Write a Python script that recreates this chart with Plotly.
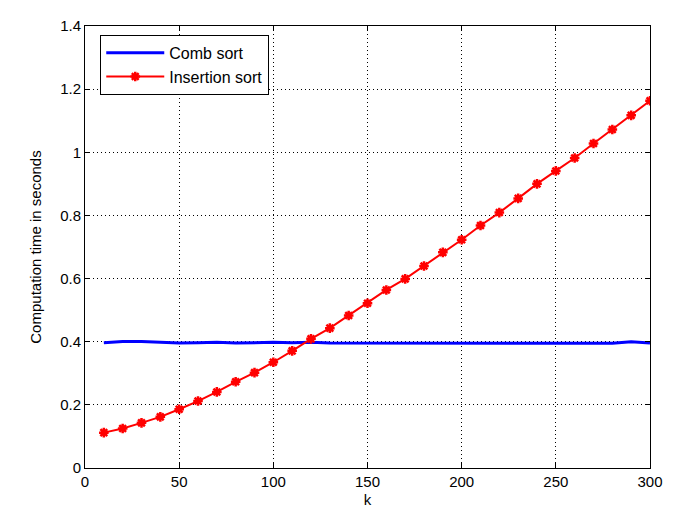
import plotly.graph_objects as go

k = [10, 20, 30, 40, 50, 60, 70, 80, 90, 100, 110, 120, 130, 140, 150,
     160, 170, 180, 190, 200, 210, 220, 230, 240, 250, 260, 270, 280, 290, 300]
comb = [0.397, 0.401, 0.401, 0.399, 0.396, 0.397, 0.398, 0.396, 0.398, 0.398,
        0.397, 0.398, 0.396, 0.396, 0.395, 0.396, 0.396, 0.396, 0.394, 0.396,
        0.396, 0.395, 0.396, 0.395, 0.394, 0.396, 0.395, 0.395, 0.400, 0.396]
insertion = [0.112, 0.125, 0.143, 0.162, 0.186, 0.212, 0.241, 0.273, 0.302, 0.335,
             0.371, 0.409, 0.443, 0.483, 0.522, 0.564, 0.599, 0.640, 0.683, 0.723,
             0.768, 0.809, 0.854, 0.900, 0.941, 0.982, 1.028, 1.072, 1.117, 1.163]

fig = go.Figure()
fig.add_trace(go.Scatter(x=k, y=comb, mode="lines", name="Comb sort",
                         line=dict(color="#0000ff", width=3)))
fig.add_trace(go.Scatter(x=k, y=insertion, mode="lines+markers", name="Insertion sort",
                         line=dict(color="#ff0000", width=2),
                         marker=dict(symbol="asterisk-open", size=8,
                                     line=dict(color="#ff0000", width=2.5))))

fam = "Liberation Sans Narrow, Liberation Sans, Arial, sans-serif"
font = dict(family=fam, size=15, color="black")
axis_common = dict(showline=True, linecolor="black", linewidth=1, mirror="ticks",
                   ticks="inside", ticklen=5, tickcolor="black",
                   showgrid=True, gridcolor="black", griddash="1px,3px", gridwidth=1,
                   zeroline=False, tickfont=font, automargin=False)
fig.update_xaxes(range=[0, 300], tick0=0, dtick=50,
                 title=dict(text="k", font=font, standoff=6), **axis_common)
fig.update_yaxes(range=[0, 1.4], tick0=0, dtick=0.2,
                 title=dict(text="Computation time in seconds", font=font, standoff=14),
                 **axis_common)

fig.update_layout(
    width=673, height=500,
    margin=dict(l=77, r=31, t=18, b=40),
    paper_bgcolor="white", plot_bgcolor="white",
    font=font,
    showlegend=True,
    legend=dict(x=0.027, y=0.98, xanchor="left", yanchor="top",
                bordercolor="black", borderwidth=1, bgcolor="white",
                font=dict(family=fam, size=16, color="black"),
                itemwidth=58, tracegroupgap=0),
)

fig.write_html("out.html")
